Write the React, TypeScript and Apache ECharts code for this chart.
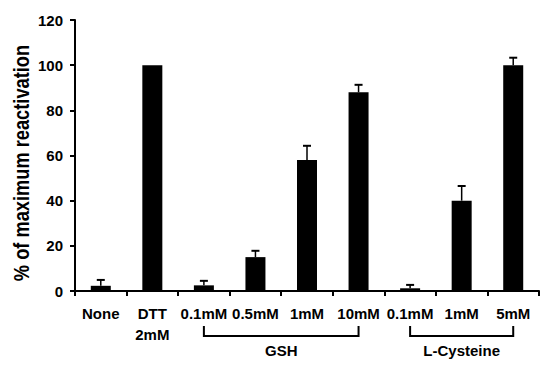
import React, { useEffect, useRef } from "react";
import * as echarts from "echarts";

const categories = ["None", "DTT\n2mM", "0.1mM", "0.5mM", "1mM", "10mM", "0.1mM", "1mM", "5mM"];
const values = [2.3, 100, 2.5, 15, 58, 88, 1.2, 40, 100];
const errors = [2.6, 0, 2, 2.8, 6.3, 3.3, 1.5, 6.5, 3.3];
const groups = [
  { name: "GSH", from: 2, to: 5 },
  { name: "L-Cysteine", from: 6, to: 8 },
];
const yTicks = { min: 0, max: 120, interval: 20 };
const yTitle = "% of maximum reactivation";

const FONT = "'Liberation Sans', Arial, sans-serif";

export default function App() {
  const ref = useRef<HTMLDivElement>(null);
  useEffect(() => {
    if (!ref.current) return;
    const chart = echarts.init(ref.current, null, { renderer: "svg" });
    const option: any = {
      animation: false,
      grid: { left: 75, right: 11, top: 20, bottom: 75, containLabel: false },
      xAxis: {
        type: "category",
        data: categories,
        axisLine: { lineStyle: { color: "#000", width: 2 } },
        axisTick: { show: true, length: 5, lineStyle: { color: "#000", width: 2 } },
        axisLabel: {
          color: "#000",
          fontFamily: FONT,
          fontWeight: "bold",
          fontSize: 15,
          lineHeight: 21,
          margin: 12,
          interval: 0,
          verticalAlign: "top",
        },
      },
      yAxis: {
        type: "value",
        min: yTicks.min,
        max: yTicks.max,
        interval: yTicks.interval,
        axisLine: { show: true, lineStyle: { color: "#000", width: 2 } },
        axisTick: { show: true, length: 5, lineStyle: { color: "#000", width: 2 } },
        splitLine: { show: false },
        axisLabel: { color: "#000", fontFamily: FONT, fontWeight: "bold", fontSize: 15, margin: 12 },
      },
      series: [
        {
          type: "bar",
          data: values,
          barWidth: 20,
          itemStyle: { color: "#000" },
        },
        {
          type: "custom",
          data: values.map((v, i) => [i, v, v + errors[i]]),
          renderItem: (params: any, api: any) => {
            const x = api.value(0);
            const lo = api.coord([x, api.value(1)]);
            const hi = api.coord([x, api.value(2)]);
            if (api.value(2) - api.value(1) <= 0) return { type: "group", children: [] };
            const style = { stroke: "#000", lineWidth: 1.5 };
            return {
              type: "group",
              children: [
                { type: "line", shape: { x1: lo[0], y1: lo[1], x2: hi[0], y2: hi[1] }, style },
                { type: "line", shape: { x1: hi[0] - 4, y1: hi[1], x2: hi[0] + 4, y2: hi[1] }, style: { stroke: "#000", lineWidth: 2 } },
              ],
            };
          },
          z: 3,
        },
      ],
    };
    chart.setOption(option);
    const graphics: any[] = [
      {
        type: "text",
        x: 21,
        y: 163,
        rotation: Math.PI / 2,
        scaleX: 0.83,
        style: {
          text: yTitle,
          fill: "#000",
          font: `bold 22px ${FONT}`,
          align: "center",
          verticalAlign: "middle",
        },
      },
    ];
    groups.forEach((g) => {
      const x1 = chart.convertToPixel({ xAxisIndex: 0 }, g.from) as number;
      const x2 = chart.convertToPixel({ xAxisIndex: 0 }, g.to) as number;
      const yTop = 326;
      const yBot = 336;
      graphics.push({
        type: "polyline",
        shape: { points: [[x1, yTop], [x1, yBot], [x2, yBot], [x2, yTop]] },
        style: { stroke: "#000", lineWidth: 2, fill: null },
      });
      graphics.push({
        type: "text",
        x: (x1 + x2) / 2,
        y: 350,
        style: {
          text: g.name,
          fill: "#000",
          font: `bold 15px ${FONT}`,
          align: "center",
          verticalAlign: "middle",
        },
      });
    });
    chart.setOption({ graphic: graphics });
    return () => chart.dispose();
  }, []);
  return <div ref={ref} style={{ width: 550, height: 366, position: "absolute", left: 0, top: 0 }} />;
}
